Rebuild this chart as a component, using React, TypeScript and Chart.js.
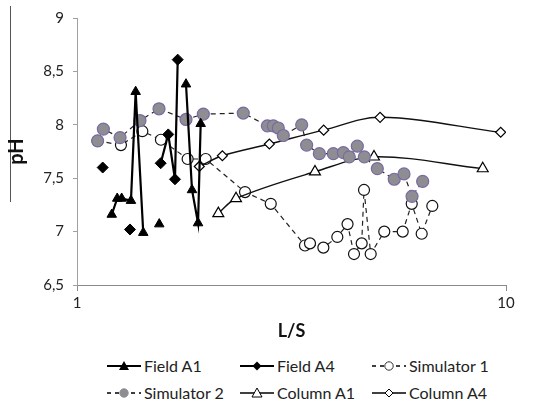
import React, { useEffect, useRef } from 'react';
import { Chart, registerables } from 'chart.js';

Chart.register(...registerables);

// ---- data (L/S on a log axis, pH) ----
const seriesNames = ['Field A1', 'Field A4', 'Simulator 1', 'Simulator 2', 'Column A1', 'Column A4'];

// null pH = break in the line
const fieldA1X = [1.205, 1.241, 1.271, 1.336, 1.37, 1.427, 1.49, 1.555, 1.68, 1.795, 1.854, 1.915, 1.942];
const fieldA1Y = [7.16, 7.31, 7.31, 7.29, 8.31, 6.99, null, 7.07, null, 8.38, 7.39, 7.08, 8.01];

const fieldA4X = [1.148, 1.24, 1.329, 1.45, 1.567, 1.632, 1.692, 1.717];
const fieldA4Y = [7.6, null, 7.02, null, 7.64, 7.91, 7.49, 8.61];

const sim1X = [1.117, 1.266, 1.42, 1.569, 1.811, 1.995, 2.464, 2.829, 3.4, 3.492, 3.752, 4.044, 4.272, 4.423, 4.609, 4.667, 4.837, 5.203, 5.744, 6.029, 6.36, 6.733];
const sim1Y = [7.85, 7.81, 7.94, 7.86, 7.68, 7.68, 7.37, 7.26, 6.87, 6.89, 6.85, 6.95, 7.07, 6.79, 6.89, 7.39, 6.79, 7.0, 7.0, 7.26, 6.98, 7.24];

const sim2X = [1.117, 1.152, 1.26, 1.402, 1.553, 1.795, 1.97, 2.441, 2.778, 2.868, 2.946, 3.026, 3.34, 3.43, 3.672, 3.958, 4.177, 4.312, 4.502, 4.674, 5.012, 5.49, 5.784, 6.039, 6.394];
const sim2Y = [7.85, 7.96, 7.88, 8.04, 8.15, 8.05, 8.1, 8.11, 7.99, 7.99, 7.97, 7.9, 8.0, 7.81, 7.73, 7.73, 7.74, 7.7, 7.8, 7.7, 7.59, 7.49, 7.54, 7.33, 7.47];

const colA1X = [2.135, 2.348, 3.587, 4.924, 8.826];
const colA1Y = [7.17, 7.31, 7.56, 7.7, 7.59];

const colA4X = [1.928, 2.182, 2.808, 3.758, 5.087, 9.719];
const colA4Y = [7.61, 7.71, 7.82, 7.95, 8.07, 7.93];

const xTickValues = [1, 10];
const xTickLabels = ['1', '10'];
const yTickValues = [6.5, 7, 7.5, 8, 8.5, 9];
const yTickLabels = ['6,5', '7', '7,5', '8', '8,5', '9'];

const pts = (xs: number[], ys: (number | null)[]) => xs.map((x, i) => ({ x, y: ys[i] }));

const FONT = 'Lato, "Noto Sans", sans-serif';
const SIM2_FILL = '#8e8e92';
const SIM2_EDGE = '#7a6aa2';

function LegendSymbol({ idx }: { idx: number }) {
  const dashed = idx === 2 || idx === 3;
  const thick = idx === 0 || idx === 1;
  const cx = 17, cy = 7;
  let marker: React.ReactNode = null;
  if (idx === 0) marker = <polygon points={`${cx},${cy - 5} ${cx + 5},${cy + 4} ${cx - 5},${cy + 4}`} fill="#000" />;
  if (idx === 1) marker = <polygon points={`${cx},${cy - 4.5} ${cx + 4.5},${cy} ${cx},${cy + 4.5} ${cx - 4.5},${cy}`} fill="#000" />;
  if (idx === 2) marker = <circle cx={cx} cy={cy} r={4.2} fill="#fff" stroke="#333" strokeWidth={1} />;
  if (idx === 3) marker = <circle cx={cx} cy={cy} r={4.2} fill={SIM2_FILL} stroke={SIM2_FILL} strokeWidth={1} />;
  if (idx === 4) marker = <polygon points={`${cx},${cy - 5} ${cx + 5},${cy + 4} ${cx - 5},${cy + 4}`} fill="#fff" stroke="#000" strokeWidth={1} />;
  if (idx === 5) marker = <polygon points={`${cx},${cy - 4} ${cx + 4},${cy} ${cx},${cy + 4} ${cx - 4},${cy}`} fill="#fff" stroke="#000" strokeWidth={1} />;
  return (
    <svg width={34} height={14} style={{ display: 'block' }}>
      <line x1={0} y1={cy} x2={34} y2={cy} stroke="#000" strokeWidth={thick ? 2 : 1.3}
        strokeDasharray={dashed ? '4 4' : undefined} />
      {marker}
    </svg>
  );
}

const legendCols = [107, 240, 372];
const legendRows = [366, 393];

export default function App() {
  const ref = useRef<HTMLCanvasElement>(null);

  useEffect(() => {
    const common = { tension: 0, spanGaps: false, pointHoverRadius: 6, order: 0 };
    const chart = new Chart(ref.current as HTMLCanvasElement, {
      type: 'line',
      data: {
        datasets: [
          {
            ...common, label: seriesNames[0], data: pts(fieldA1X, fieldA1Y),
            borderColor: '#000', borderWidth: 2.2, pointStyle: 'triangle', pointRadius: 5.5,
            pointBackgroundColor: '#000', pointBorderColor: '#000', pointBorderWidth: 1,
          },
          {
            ...common, label: seriesNames[1], data: pts(fieldA4X, fieldA4Y),
            borderColor: '#000', borderWidth: 2.2, pointStyle: 'rectRot', pointRadius: 5.5,
            pointBackgroundColor: '#000', pointBorderColor: '#000', pointBorderWidth: 1,
          },
          {
            ...common, order: 1, label: seriesNames[2], data: pts(sim1X, sim1Y),
            borderColor: '#222', borderWidth: 1.2, borderDash: [5, 4], pointStyle: 'circle', pointRadius: 5.5,
            pointBackgroundColor: '#fff', pointBorderColor: '#111', pointBorderWidth: 1.2,
          },
          {
            ...common, label: seriesNames[3], data: pts(sim2X, sim2Y),
            borderColor: '#222', borderWidth: 1.2, borderDash: [5, 4], pointStyle: 'circle', pointRadius: 6,
            pointBackgroundColor: SIM2_FILL, pointBorderColor: SIM2_EDGE, pointBorderWidth: 1.2,
          },
          {
            ...common, label: seriesNames[4], data: pts(colA1X, colA1Y), tension: 0.35,
            borderColor: '#111', borderWidth: 1.4, pointStyle: 'triangle', pointRadius: 6.3,
            pointBackgroundColor: '#fff', pointBorderColor: '#000', pointBorderWidth: 1.2,
          },
          {
            ...common, label: seriesNames[5], data: pts(colA4X, colA4Y), tension: 0.35,
            borderColor: '#111', borderWidth: 1.4, pointStyle: 'rectRot', pointRadius: 5,
            pointBackgroundColor: '#fff', pointBorderColor: '#000', pointBorderWidth: 1.2,
          },
        ],
      },
      options: {
        animation: false,
        responsive: true,
        maintainAspectRatio: false,
        layout: { padding: { left: 0, top: 13, right: 40, bottom: 0 } },
        plugins: { legend: { display: false }, tooltip: { enabled: false } },
        scales: {
          x: {
            type: 'logarithmic',
            min: 1,
            max: 10,
            afterBuildTicks: (s: any) => { s.ticks = xTickValues.map((v) => ({ value: v })); },
            afterFit: (s: any) => { s.height = 60; },
            ticks: {
              autoSkip: false,
              maxRotation: 0,
              padding: 3,
              color: '#222',
              font: { family: FONT, size: 15 },
              callback: (_v: any, i: number) => xTickLabels[i],
            },
            grid: { display: true, drawOnChartArea: false, drawTicks: true, tickLength: 6, color: '#8a8a8a' },
            border: { display: true, color: '#8a8a8a', width: 1 },
            title: {
              display: true, text: 'L/S', color: '#111',
              font: { family: FONT, size: 18, weight: 'bold' },
              padding: { top: 0, bottom: 3 },
            },
          },
          y: {
            type: 'linear',
            min: 6.5,
            max: 9,
            afterBuildTicks: (s: any) => { s.ticks = yTickValues.map((v) => ({ value: v })); },
            afterFit: (s: any) => { s.width = 77; },
            ticks: {
              autoSkip: false,
              padding: 9,
              color: '#222',
              font: { family: FONT, size: 15 },
              callback: (_v: any, i: number) => yTickLabels[i],
            },
            grid: { display: true, drawOnChartArea: false, drawTicks: true, tickLength: 4, color: '#a0a0a0' },
            border: { display: true, color: '#a0a0a0', width: 1 },
            title: {
              display: true, text: 'pH', color: '#111',
              font: { family: FONT, size: 20, weight: 'bold' },
              padding: { top: 5, bottom: 0 },
            },
          },
        },
      },
    } as any);
    return () => chart.destroy();
  }, []);

  return (
    <div style={{ position: 'fixed', left: 0, top: 0, width: 546, height: 405, overflow: 'hidden', background: '#fff', fontFamily: FONT }}>
      <div style={{ position: 'absolute', left: 10, top: 6, width: 1, height: 196, background: '#555' }} />
      <div style={{ position: 'absolute', left: 0, top: 0, width: 546, height: 345 }}>
        <canvas ref={ref} />
      </div>
      {seriesNames.map((name, i) => (
        <div key={name} style={{
          position: 'absolute', left: legendCols[i % 3], top: legendRows[Math.floor(i / 3)] - 10,
          height: 20, display: 'flex', alignItems: 'center', whiteSpace: 'nowrap',
          fontSize: 16, color: '#222', lineHeight: '20px',
        }}>
          <LegendSymbol idx={i} />
          <span style={{ marginLeft: 3 }}>{name}</span>
        </div>
      ))}
    </div>
  );
}
